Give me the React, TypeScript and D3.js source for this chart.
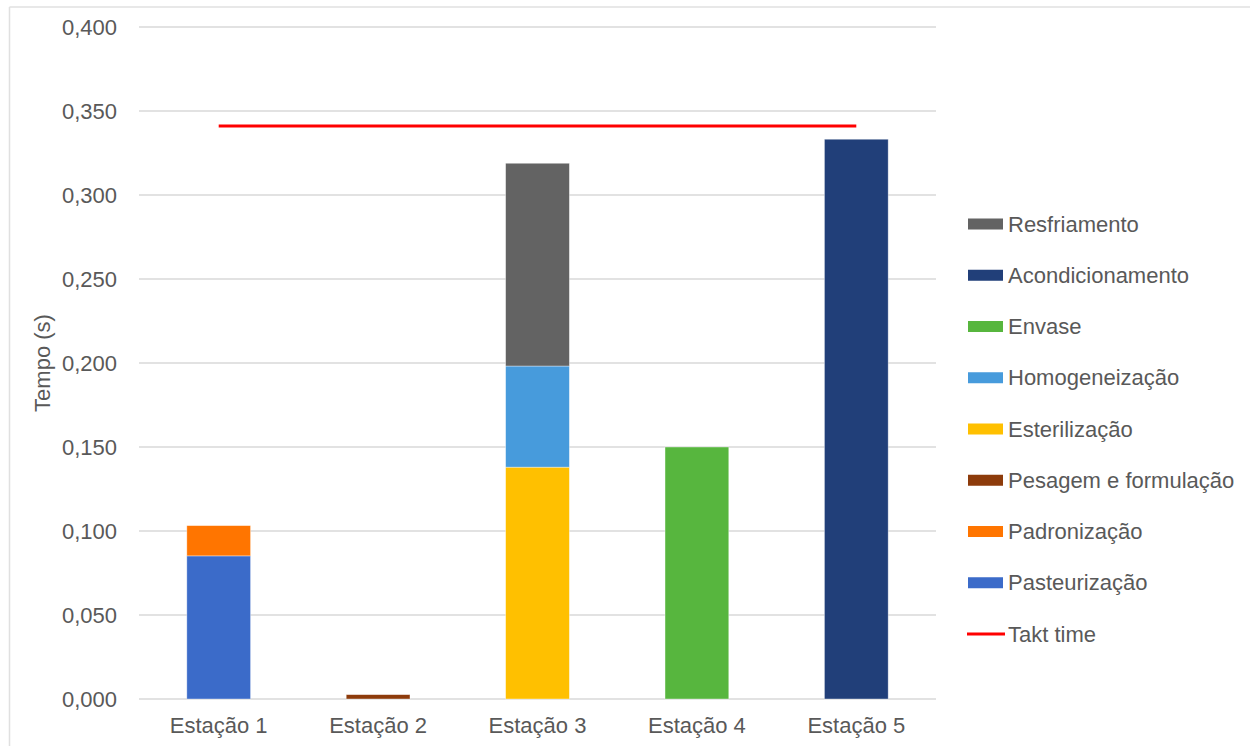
import React from "react";
import * as d3 from "d3";

const categories = ["Estação 1", "Estação 2", "Estação 3", "Estação 4", "Estação 5"];
const pasteurizacao = [0.0852, 0, 0, 0, 0];
const padronizacao = [0.018, 0, 0, 0, 0];
const pesagem = [0, 0.0026, 0, 0, 0];
const esterilizacao = [0, 0, 0.138, 0, 0];
const homogeneizacao = [0, 0, 0.0602, 0, 0];
const envase = [0, 0, 0, 0.150, 0];
const acondicionamento = [0, 0, 0, 0, 0.3332];
const resfriamento = [0, 0, 0.1207, 0, 0];
const taktTime = 0.341;
const yTicks = [0, 0.05, 0.1, 0.15, 0.2, 0.25, 0.3, 0.35, 0.4];

const seriesNames = [
  "Pasteurização",
  "Padronização",
  "Pesagem e formulação",
  "Esterilização",
  "Homogeneização",
  "Envase",
  "Acondicionamento",
  "Resfriamento",
];
const seriesValues = [
  pasteurizacao,
  padronizacao,
  pesagem,
  esterilizacao,
  homogeneizacao,
  envase,
  acondicionamento,
  resfriamento,
];
const seriesColors = [
  "#3B6BC9",
  "#FF7500",
  "#8D3B0B",
  "#FFC000",
  "#479BDC",
  "#57B63E",
  "#213F79",
  "#636363",
];

export default function App() {
  const W = 1250;
  const H = 746;
  const left = 139;
  const right = 936;
  const top = 27;
  const bottom = 699;
  const font = "'Liberation Sans', Arial, Helvetica, sans-serif";
  const textColor = "#595959";
  const fs = 22;

  const x = d3.scaleBand<string>().domain(categories).range([left, right]).paddingInner(0.6).paddingOuter(0.3);
  const y = d3.scaleLinear().domain([0, 0.4]).range([bottom, top]);

  const rows = categories.map((c, i) => {
    const r: any = { cat: c };
    seriesNames.forEach((s, j) => (r[s] = seriesValues[j][i]));
    return r;
  });
  const stacked = d3.stack<any>().keys(seriesNames)(rows);

  const fmt = (v: number) => d3.format(".3f")(v).replace(".", ",");

  const band = (right - left) / categories.length;
  const cx = (c: string) => (x(c) as number) + x.bandwidth() / 2;

  const legendItems = [...seriesNames.map((s, j) => ({ name: s, color: seriesColors[j], line: false }))].reverse();
  legendItems.push({ name: "Takt time", color: "#FF0000", line: true });
  const legendY0 = 224;
  const legendStep = 51.25;

  return (
    <svg width={W} height={H} style={{ position: "absolute", left: 0, top: 0, background: "#fff" }} fontFamily={font}>
      <rect x={0} y={0} width={W} height={H} fill="#fff" />
      <line x1={9.5} y1={7} x2={W} y2={7} stroke="#e0e0e0" strokeWidth={1.5} />
      <line x1={9.5} y1={7} x2={9.5} y2={H} stroke="#e0e0e0" strokeWidth={1.5} />

      {yTicks.map((t) => (
        <g key={t}>
          <line x1={left} x2={right} y1={y(t)} y2={y(t)} stroke="#d9d9d9" strokeWidth={1.5} />
          <text x={117} y={y(t)} dy="0.35em" textAnchor="end" fontSize={fs} fill={textColor}>
            {fmt(t)}
          </text>
        </g>
      ))}

      {stacked.map((layer, j) => (
        <g key={layer.key} fill={seriesColors[j]}>
          {layer.map((d, i) =>
            d[1] - d[0] > 0 ? (
              <rect
                key={i}
                x={x(categories[i])}
                width={x.bandwidth()}
                y={y(d[1])}
                height={y(d[0]) - y(d[1])}
                stroke="#ffffff"
                strokeOpacity={0.5}
                strokeWidth={0.75}
              />
            ) : null
          )}
        </g>
      ))}

      <line
        x1={cx(categories[0])}
        x2={cx(categories[categories.length - 1])}
        y1={y(taktTime)}
        y2={y(taktTime)}
        stroke="#FF0000"
        strokeWidth={3}
      />

      {categories.map((c) => (
        <text key={c} x={cx(c)} y={733} textAnchor="middle" fontSize={fs} fill={textColor}>
          {c}
        </text>
      ))}

      <text
        transform={`translate(50, ${(top + bottom) / 2}) rotate(-90)`}
        textAnchor="middle"
        fontSize={fs}
        fill={textColor}
      >
        Tempo (s)
      </text>

      {legendItems.map((it, k) => {
        const ly = legendY0 + k * legendStep;
        return (
          <g key={it.name}>
            {it.line ? (
              <line x1={967} x2={1005} y1={ly} y2={ly} stroke={it.color} strokeWidth={3} />
            ) : (
              <rect x={968} y={ly - 5.5} width={35} height={11} fill={it.color} />
            )}
            <text x={1008} y={ly} dy="0.35em" fontSize={fs} fill={textColor}>
              {it.name}
            </text>
          </g>
        );
      })}
    </svg>
  );
}
